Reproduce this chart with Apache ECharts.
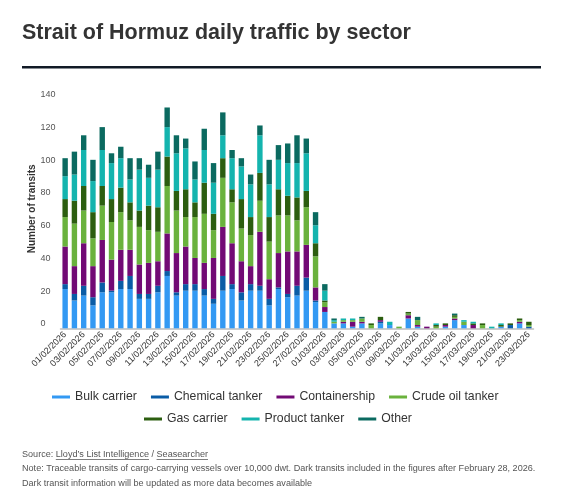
<!DOCTYPE html>
<html><head><meta charset="utf-8">
<script src="https://cdn.jsdelivr.net/npm/echarts@6/dist/echarts.min.js"></script>
<style>html,body{margin:0;padding:0;background:#fff}#c{width:582px;height:502px}</style>
</head><body><div id="c"></div>
<script>
// ---------- data ----------
const dates = [
 "01/02/2026","02/02/2026","03/02/2026","04/02/2026","05/02/2026","06/02/2026","07/02/2026",
 "08/02/2026","09/02/2026","10/02/2026","11/02/2026","12/02/2026","13/02/2026","14/02/2026",
 "15/02/2026","16/02/2026","17/02/2026","18/02/2026","19/02/2026","20/02/2026","21/02/2026",
 "22/02/2026","23/02/2026","24/02/2026","25/02/2026","26/02/2026","27/02/2026","28/02/2026",
 "01/03/2026","02/03/2026","03/03/2026","04/03/2026","05/03/2026","06/03/2026","07/03/2026",
 "08/03/2026","09/03/2026","10/03/2026","11/03/2026","12/03/2026","13/03/2026","14/03/2026",
 "15/03/2026","16/03/2026","17/03/2026","18/03/2026","19/03/2026","20/03/2026","21/03/2026",
 "22/03/2026","23/03/2026"
];
const bulkCarrier    = [24,17,20,14,22,22,24,24,18,18,22,32,20,23,23,20,15,23,24,17,23,23,14,24,19,20,23,16,10,3,3,1,3,0,3,2,0,6,1,0,0,1,5,2,0,0,0,1,0,3,0];
const chemicalTanker = [3,4,6,5,6,1,5,8,3,3,4,3,2,4,4,4,3,9,3,5,4,3,4,1,2,6,8,1,0,0,0,0,0,0,1,0,0,0,0,0,0,0,0,0,0,0,0,0,2,0,1];
const containership  = [23,17,26,19,26,19,19,16,18,19,15,23,24,23,16,16,25,30,25,19,11,33,12,21,26,21,20,8,3,0,1,3,1,0,1,0,0,2,1,1,0,1,1,0,2,0,0,0,0,1,0];
const crudeOilTanker = [18,26,20,17,21,23,23,18,23,20,18,29,26,18,25,30,17,30,25,20,19,19,23,23,22,19,23,19,3,1,1,1,2,2,0,0,1,1,3,0,1,0,1,2,0,2,0,0,0,1,1];
const gasCarrier     = [11,14,15,16,12,14,15,11,10,15,15,18,12,17,9,19,10,12,8,18,11,17,15,16,12,14,10,8,1,0,0,0,0,1,2,0,0,1,0,0,1,1,1,0,1,1,0,1,1,1,2];
const productTanker  = [14,16,22,19,22,22,18,14,25,17,23,18,23,25,14,20,19,14,19,20,20,23,20,18,20,21,23,11,6,1,1,1,0,0,0,2,0,0,0,0,1,0,0,1,1,0,1,1,0,0,0];
const other          = [11,14,9,13,14,6,7,13,7,8,11,12,11,6,11,13,12,14,5,5,6,6,15,9,12,17,9,8,4,1,0,0,1,0,0,0,0,0,2,0,0,0,1,0,0,0,0,0,0,0,0];
const seriesNames = ["Bulk carrier","Chemical tanker","Containership","Crude oil tanker","Gas carrier","Product tanker","Other"];
const seriesValues = [bulkCarrier,chemicalTanker,containership,crudeOilTanker,gasCarrier,productTanker,other];
const colors = ["#3399f3","#0a5ca6","#720a75","#6ab23d","#2c5e10","#14b4ae","#0b6a60"];
const yMin = 0, yMax = 140, yStep = 20;

const titleText = "Strait of Hormuz daily traffic by sector";
const axisName = "Number of transits";
const noteLine1 = "Note: Traceable transits of cargo-carrying vessels over 10,000 dwt. Dark transits included in the figures after February 28, 2026.";
const noteLine2 = "Dark transit information will be updated as more data becomes available";
const sourceParts = [["Source: ",false],["Lloyd\u2019s List Intelligence",true],[" / ",false],["Seasearcher",true]];

// ---------- font fitting ----------
const FONT = '"Liberation Sans", Arial, Helvetica, sans-serif';
const ctx = document.createElement('canvas').getContext('2d');
function tw(text,size,weight){ctx.font=(weight||'normal')+' '+size+'px '+FONT;return ctx.measureText(text).width;}
function fit(text,target,weight){return +(20*target/tw(text,20,weight)).toFixed(2);}
const titleSize = Math.min(23, fit(titleText,389,'bold'));
const noteSize = Math.min(10.5, fit(noteLine1,514));
const legendSize = Math.min(13.5, fit("Bulk carrier",62));

// ---------- header / footer graphics ----------
const footColor = "#555";
const graphics = [];
graphics.push({type:'text',left:22,top:23,style:{text:titleText,fontSize:titleSize,fontWeight:'bold',fontFamily:FONT,fill:'#333'}});
graphics.push({type:'rect',shape:{x:22,y:66,width:519,height:2.5},style:{fill:'#111a26'}});
let sx = 22;
sourceParts.forEach(([t,u])=>{
  graphics.push({type:'text',x:sx,y:454,style:{text:t,fontSize:noteSize,fontFamily:FONT,fill:footColor,verticalAlign:'middle'}});
  const wd = tw(t,noteSize);
  if(u){graphics.push({type:'rect',shape:{x:sx,y:454+noteSize*0.55,width:wd,height:0.8},style:{fill:footColor}});}
  sx += wd;
});
graphics.push({type:'text',x:22,y:468.5,style:{text:noteLine1,fontSize:noteSize,fontFamily:FONT,fill:footColor,verticalAlign:'middle'}});
graphics.push({type:'text',x:22,y:483,style:{text:noteLine2,fontSize:noteSize,fontFamily:FONT,fill:footColor,verticalAlign:'middle'}});

// ---------- chart ----------
const chart = echarts.init(document.getElementById('c'),null,{renderer:'canvas'});
const legendCommon = {icon:'rect',itemWidth:18,itemHeight:3,itemGap:14,padding:0,
  textStyle:{fontSize:legendSize,fontFamily:FONT,color:'#333',lineHeight:16}};
chart.setOption({
  animation:false,
  textStyle:{fontFamily:FONT},
  graphic:{elements:graphics},
  legend:[
    Object.assign({data:seriesNames.slice(0,4),left:52,top:389},legendCommon),
    Object.assign({data:seriesNames.slice(4),left:144,top:411},legendCommon)
  ],
  grid:{left:60.5,top:99.3,width:473,height:229,containLabel:false},
  xAxis:{type:'category',data:dates,boundaryGap:true,
    axisLine:{lineStyle:{color:'#bdbdbd',width:1.5}},
    axisTick:{show:false},
    axisLabel:{interval:1,rotate:45,margin:5,fontSize:9,color:'#333',fontFamily:FONT}},
  yAxis:{type:'value',min:yMin,max:yMax,interval:yStep,
    name:axisName,nameLocation:'middle',nameGap:23,nameMoveOverlap:false,
    nameTextStyle:{fontSize:10,fontWeight:'bold',color:'#333',fontFamily:FONT,padding:[0,0,0,10]},
    axisLine:{show:false},axisTick:{show:false},splitLine:{show:false},
    axisLabel:{align:'left',margin:20,verticalAlign:'bottom',fontSize:9,color:'#555',fontFamily:FONT,showMinLabel:true,showMaxLabel:true}},
  series:seriesNames.map((n,k)=>({name:n,type:'bar',stack:'total',barWidth:5.4,
    itemStyle:{color:colors[k]},emphasis:{disabled:true},data:seriesValues[k]}))
});
</script></body></html>
